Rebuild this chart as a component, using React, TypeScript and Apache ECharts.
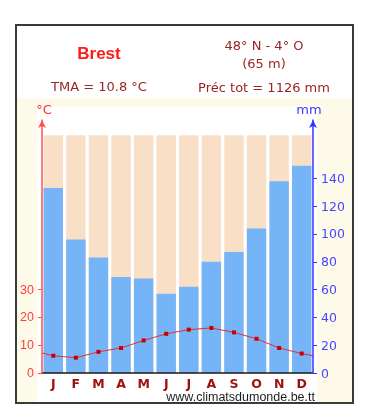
import React, { useEffect, useRef } from "react";
import * as echarts from "echarts";

const months = ["J", "F", "M", "A", "M", "J", "J", "A", "S", "O", "N", "D"];
const precipitation = [133, 96, 83, 69, 68, 57, 62, 80, 87, 104, 138, 149];
const temperature = [6.2, 5.5, 7.6, 9.0, 11.7, 14.1, 15.6, 16.2, 14.6, 12.3, 9.0, 7.0];
const tempEdgeStart = 7.2;
const tempEdgeEnd = 6.2;
const bgLevel = 171;
const tempTicks = [0, 10, 20, 30];
const precTicks = [0, 20, 40, 60, 80, 100, 120, 140];
const station = "Brest";
const coords = "48° N - 4° O";
const altitude = "(65 m)";
const tmaText = "TMA = 10.8 °C";
const precText = "Préc tot = 1126 mm";
const site = "www.climatsdumonde.be.tt";

export default function App() {
  const ref = useRef<HTMLDivElement>(null);
  useEffect(() => {
    if (!ref.current) return;
    const chart = echarts.init(ref.current, undefined, { renderer: "svg" });
    const lineData: any[] = [{ value: [0, tempEdgeStart], symbol: "none" }];
    temperature.forEach((t, i) => lineData.push({ value: [i + 0.5, t] }));
    lineData.push({ value: [12, tempEdgeEnd], symbol: "none" });

    const infoColor = "#9a2424";
    chart.setOption({
      animation: false,
      graphic: [
        { type: "rect", z: -20, shape: { x: 16, y: 25, width: 337, height: 378 }, style: { fill: "#ffffff", stroke: "#3a3a3a", lineWidth: 2 } },
        { type: "rect", z: -19, shape: { x: 17, y: 98, width: 335, height: 304 }, style: { fill: "#fefaea" } },
        { type: "rect", z: -18, shape: { x: 37, y: 107, width: 280, height: 295 }, style: { fill: "#ffffff" } },
        { type: "text", z: 10, x: 99, y: 53, style: { text: station, fill: "#ff1a1a", font: "bold 17px 'Liberation Sans', Arial, sans-serif", textAlign: "center", textVerticalAlign: "middle" } },
        { type: "text", z: 10, x: 99, y: 86, style: { text: tmaText, fill: infoColor, font: "13px 'DejaVu Sans', sans-serif", textAlign: "center", textVerticalAlign: "middle" } },
        { type: "text", z: 10, x: 264, y: 45, style: { text: coords, fill: infoColor, font: "13px 'DejaVu Sans', sans-serif", textAlign: "center", textVerticalAlign: "middle" } },
        { type: "text", z: 10, x: 264, y: 63, style: { text: altitude, fill: infoColor, font: "13px 'DejaVu Sans', sans-serif", textAlign: "center", textVerticalAlign: "middle" } },
        { type: "text", z: 10, x: 264, y: 87, style: { text: precText, fill: infoColor, font: "13px 'DejaVu Sans', sans-serif", textAlign: "center", textVerticalAlign: "middle" } },
        { type: "text", z: 10, x: 315, y: 397, style: { text: site, fill: "#1e1e1e", font: "12.5px 'Liberation Sans', Arial, sans-serif", textAlign: "right", textVerticalAlign: "middle" } },
      ],
      grid: { left: 42, right: 59, top: 120, bottom: 44, containLabel: false },
      xAxis: [
        {
          type: "category",
          data: months,
          boundaryGap: true,
          axisLine: { show: true, lineStyle: { color: "#1a1a1a", width: 1.5 } },
          axisTick: { show: false },
          axisLabel: { color: "#9c1010", fontWeight: "bold", fontSize: 12.5, fontFamily: "'DejaVu Sans', sans-serif", margin: 4 },
          splitLine: { show: false },
          z: 5,
        },
        { type: "value", min: 0, max: 12, show: false },
      ],
      yAxis: [
        {
          type: "value",
          position: "left",
          min: 0,
          max: 91,
          name: "°C",
          nameLocation: "end",
          nameGap: 4,
          nameTextStyle: { color: "#ff2a2a", fontSize: 13, fontFamily: "'DejaVu Sans', sans-serif", padding: [0, 0, 0, 4] },
          axisLine: { show: true, onZero: false, lineStyle: { color: "#ff5050", width: 1.5 }, symbol: ["none", "arrow"], symbolSize: [6, 8] },
          axisTick: { show: true, length: 4, customValues: tempTicks, lineStyle: { color: "#ff5050" } },
          axisLabel: { customValues: tempTicks, color: "#ff3a3a", fontSize: 12.5, fontFamily: "'Liberation Sans', Arial, sans-serif", margin: 8 },
          splitLine: { show: false },
          z: 6,
        },
        {
          type: "value",
          position: "right",
          min: 0,
          max: 182,
          name: "mm",
          nameLocation: "end",
          nameGap: 4,
          nameTextStyle: { color: "#3a3aff", fontSize: 13, fontFamily: "'DejaVu Sans', sans-serif", padding: [0, 8, 0, 0] },
          axisLine: { show: true, onZero: false, lineStyle: { color: "#3535ff", width: 1.5 }, symbol: ["none", "arrow"], symbolSize: [6, 8] },
          axisTick: { show: true, length: 4, customValues: precTicks, lineStyle: { color: "#3535ff" } },
          axisLabel: { customValues: precTicks, color: "#4545ff", fontSize: 12.5, fontFamily: "'DejaVu Sans', sans-serif", margin: 8 },
          splitLine: { show: false },
          z: 6,
        },
      ],
      series: [
        {
          type: "bar",
          xAxisIndex: 0,
          yAxisIndex: 1,
          data: months.map(() => bgLevel),
          barCategoryGap: "14%",
          itemStyle: { color: "#f9dfc6" },
          silent: true,
          z: 1,
        },
        {
          type: "bar",
          xAxisIndex: 0,
          yAxisIndex: 1,
          data: precipitation,
          barGap: "-100%",
          barCategoryGap: "14%",
          itemStyle: { color: "#76b4f8" },
          z: 2,
        },
        {
          type: "line",
          xAxisIndex: 1,
          yAxisIndex: 0,
          data: lineData,
          symbol: "rect",
          symbolSize: 4,
          showSymbol: true,
          lineStyle: { color: "#e62e2e", width: 1 },
          itemStyle: { color: "#c80000" },
          z: 4,
        },
      ],
    });
    return () => chart.dispose();
  }, []);
  return <div ref={ref} style={{ position: "fixed", left: 0, top: 0, width: 372, height: 417 }} />;
}
